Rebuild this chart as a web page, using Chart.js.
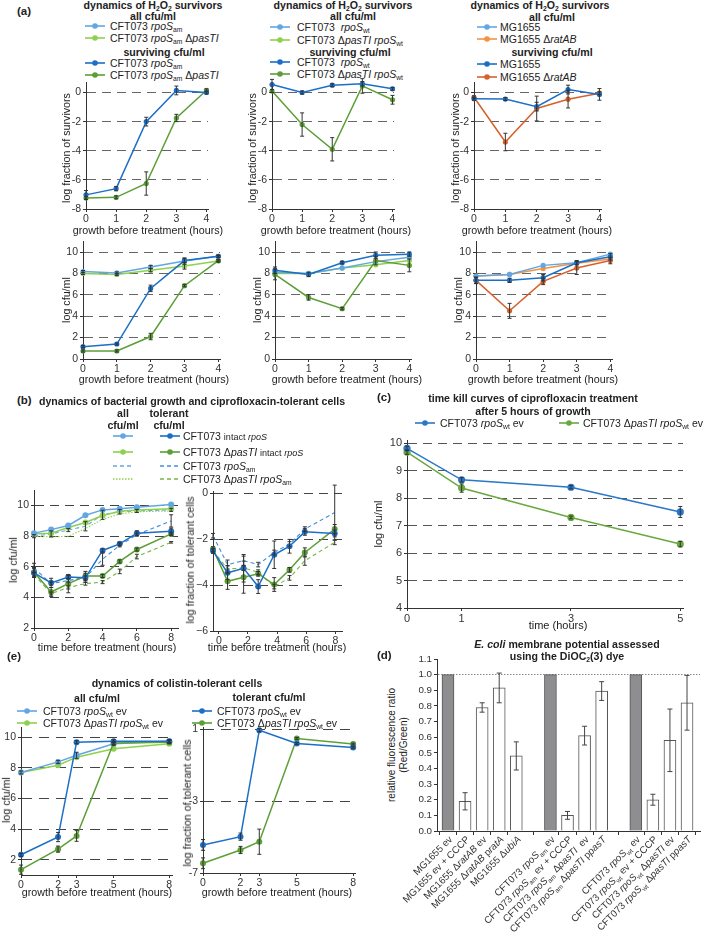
<!DOCTYPE html>
<html><head><meta charset="utf-8">
<script src="https://cdn.jsdelivr.net/npm/chart.js@4.4.1/dist/chart.umd.min.js"></script>
<style>
html,body{margin:0;padding:0;background:#fff}
body{position:relative;width:709px;height:934px;overflow:hidden;font-family:"Liberation Sans",Arial,Helvetica,sans-serif;color:#222}
.t{position:absolute;white-space:nowrap;line-height:1.15}
.t sub{font-size:0.64em;vertical-align:-0.3em;line-height:0}
.t svg{display:block}
.sm{font-size:0.86em}
canvas{position:absolute}
</style></head><body>
<script>
// ---------------- DATA ----------------
// (a) H2O2 survivors
const hoursA = [0, 1, 2, 3, 4];
const a1AmSurv = [-7.03, -6.6, -2.0, 0.14, 0.0];
const a1AmSurvErr = [0.3, 0.15, 0.3, 0.3, 0.1];
const a1AmPasSurv = [-7.25, -7.2, -6.25, -1.75, 0.15];
const a1AmPasSurvErr = [0.1, 0.1, 0.8, 0.25, 0.1];
const a2WtSurv = [0.55, 0.0, 0.5, 0.6, 0.25];
const a2WtSurvErr = [0.35, 0.1, 0.1, 0.15, 0.1];
const a2WtPasSurv = [0.1, -2.2, -3.9, 0.45, -0.5];
const a2WtPasSurvErr = [0.1, 0.8, 0.8, 0.5, 0.3];
const a3MgSurv = [-0.43, -0.45, -0.97, 0.2, -0.13];
const a3MgSurvErr = [0.1, 0.1, 0.3, 0.3, 0.4];
const a3RatSurv = [-0.33, -3.4, -1.1, -0.46, -0.05];
const a3RatSurvErr = [0.1, 0.6, 0.85, 0.6, 0.1];

const a4AmAll = [8.17, 8.04, 8.6, 9.15, 9.6];
const a4AmPasAll = [8.0, 7.9, 8.3, 8.7, 9.15];
const a4AmSurv = [1.15, 1.4, 6.6, 9.2, 9.6];
const a4AmPasSurv = [0.75, 0.75, 2.1, 6.85, 9.2];
const a4AllErr = [0.1, 0.1, 0.15, 0.3, 0.1];
const a4SurvErr = [0.1, 0.1, 0.3, 0.2, 0.1];
const a4PasSurvErr = [0.1, 0.1, 0.3, 0.1, 0.1];

const a5WtAll = [8.1, 8.0, 8.5, 9.1, 9.5];
const a5WtPasAll = [8.0, 8.0, 8.5, 8.8, 9.2];
const a5WtSurv = [8.3, 7.9, 9.0, 9.7, 9.8];
const a5WtPasSurv = [7.9, 5.75, 4.7, 9.2, 8.75];
const a5SurvErr = [0.3, 0.2, 0.1, 0.3, 0.2];
const a5PasSurvErr = [0.5, 0.25, 0.1, 0.4, 0.6];

const a6MgAll = [7.75, 7.9, 8.75, 9.0, 9.8];
const a6RatAll = [7.75, 7.9, 8.45, 8.95, 9.35];
const a6MgSurv = [7.35, 7.35, 7.6, 9.0, 9.55];
const a6RatSurv = [7.35, 4.5, 7.25, 8.5, 9.2];
const a6MgSurvErr = [0.3, 0.2, 0.3, 0.2, 0.3];
const a6RatSurvErr = [0.3, 0.7, 0.3, 0.6, 0.3];

const aTopYTicks = [-8, -6, -4, -2, 0];
const aTopGrid = [-6, -4, -2, 0];
const aBotYTicks = [0, 2, 4, 6, 8, 10];
const aBotGrid = [2, 4, 6, 8, 10];

const aLeg1 = ['CFT073 *rpoS*_{am}', 'CFT073 *rpoS*_{am} Δ*pasTI*'];
const aLeg2 = ['CFT073 &nbsp;*rpoS*_{wt}', 'CFT073 Δ*pasTI* *rpoS*_{wt}'];
const aLeg3 = ['MG1655', 'MG1655 Δ*ratAB*'];

// (b) ciprofloxacin-tolerant cells
const hoursB = [0, 1, 2, 3, 4, 5, 6, 8];
const b1AllIntact = [8.2, 8.43, 8.7, 9.37, 9.72, 9.8, 9.9, 10.07];
const b1AllIntactPas = [8.15, 8.2, 8.57, 8.9, 9.35, 9.63, 9.72, 9.8];
const b1TolIntact = [5.6, 4.95, 5.33, 5.28, 7.07, 7.5, 8.2, 8.33];
const b1TolIntactPas = [5.65, 4.35, 4.9, 5.4, 5.4, 6.35, 7.13, 8.15];
const b1AllAm = [8.0, 8.15, 8.4, 8.65, 9.4, 9.6, 9.65, 9.72];
const b1AllAmPas = [8.0, 7.95, 8.0, 8.5, 9.1, 9.45, 9.6, 9.65];
const b1TolAm = [5.93, 4.9, 5.1, 5.3, 6.5, 7.4, 8.1, 9.0];
const b1TolAmPas = [5.5, 4.25, 4.65, 4.9, 5.0, 5.7, 6.67, 7.6];
const b1AllErr = [0.1, 0.2, 0.1, 0.3, 0.3, 0.15, 0.1, 0.1];
const b1TolIntactErr = [0.3, 0.3, 0.1, 0.3, 0.1, 0.1, 0.15, 0.2];
const b1TolIntactPasErr = [0.3, 0.3, 0.6, 0.3, 0.1, 0.1, 0.1, 0.1];
const b1TolAmErr = [0.3, 0.1, 0.1, 0.1, 0.4, 0.1, 0.1, 0.4];
const b1TolAmPasErr = [0.1, 0.1, 0.1, 0.1, 0.1, 0.15, 0.15, 0.05];

const hoursB2 = [-0.4, 0.6, 1.7, 2.7, 3.8, 4.85, 5.9, 7.95];
const b2TolIntact = [-2.5, -3.46, -3.26, -4.06, -2.67, -2.3, -1.67, -1.74];
const b2TolIntactPas = [-2.42, -3.83, -3.65, -3.5, -3.97, -3.33, -2.57, -1.55];
const b2TolAm = [-1.84, -3.1, -2.93, -3.1, -2.57, -2.2, -1.55, -0.83];
const b2TolAmPas = [-2.5, -3.29, -3.25, -3.43, -4.06, -3.68, -2.93, -2.13];
const b2TolIntactErr = [0.1, 0.3, 0.6, 0.3, 0.6, 0.3, 0.15, 0.15];
const b2TolIntactPasErr = [0.1, 0.35, 0.7, 0.1, 0.3, 0.1, 0.2, 0.2];
const b2TolAmErr = [0.1, 0.2, 0.2, 0.1, 0.1, 0.1, 0.1, 1.2];
const b2TolAmPasErr = [0.1, 0.15, 0.1, 0.1, 0.1, 0.1, 0.2, 0.1];

// (c) time kill
const hoursC = [0, 1, 3, 5];
const cWt = [9.82, 8.67, 8.4, 7.5];
const cWtErr = [0.08, 0.08, 0.06, 0.2];
const cWtPas = [9.68, 8.37, 7.3, 6.33];
const cWtPasErr = [0.08, 0.15, 0.05, 0.1];

// (d) membrane potential
const dCategories = ['MG1655 ev', 'MG1655 ev + CCCP', 'MG1655 Δ*ratAB* ev', 'MG1655 Δ*ratAB* p*ratA*', 'MG1655 Δ*ubiA*', '',
  'CFT073 *rpoS*_{am} ev', 'CFT073 *rpoS*_{am} ev + CCCP', 'CFT073 *rpoS*_{am} Δ*pasTI*  ev', 'CFT073 *rpoS*_{am} Δ*pasTI* p*pasT*', '',
  'CFT073 *rpoS*_{wt} ev', 'CFT073 *rpoS*_{wt} ev + CCCP', 'CFT073 *rpoS*_{wt} Δ*pasTI* ev', 'CFT073 *rpoS*_{wt} Δ*pasTI* p*pasT*'];
const dValues = [1.0, 0.19, 0.79, 0.915, 0.48, null, 1.0, 0.10, 0.61, 0.895, null, 1.0, 0.20, 0.58, 0.82];
const dErr = [0, 0.055, 0.03, 0.095, 0.09, 0, 0, 0.025, 0.06, 0.06, 0, 0, 0.035, 0.2, 0.175];
const dControl = [1, 0, 0, 0, 0, 0, 1, 0, 0, 0, 0, 1, 0, 0, 0];
const dYTicks = [0, 0.1, 0.2, 0.3, 0.4, 0.5, 0.6, 0.7, 0.8, 0.9, 1.0, 1.1];

// (e) colistin
const hoursE = [0, 2, 3, 5, 8];
const e1AllWt = [7.7, 8.39, 8.82, 9.57, 9.74];
const e1AllWtPas = [7.7, 8.17, 8.7, 9.25, 9.57];
const e1TolWt = [2.32, 3.48, 9.68, 9.74, 9.74];
const e1TolWtPas = [1.35, 2.69, 3.55, 9.63, 9.68];
const e1AllErr = [0.1, 0.1, 0.2, 0.1, 0.1];
const e1TolWtErr = [0.1, 0.3, 0.1, 0.1, 0.1];
const e1TolWtPasErr = [0.3, 0.2, 0.35, 0.1, 0.1];
const e2TolWt = [-5.44, -4.98, 0.94, 0.2, -0.02];
const e2TolWtPas = [-6.46, -5.72, -5.26, 0.48, 0.17];
const e2TolWtErr = [0.3, 0.2, 0.1, 0.05, 0.05];
const e2TolWtPasErr = [0.3, 0.2, 0.7, 0.05, 0.05];

// ---------------- STYLE / HELPERS ----------------
const FONT = '"Liberation Sans", Arial, Helvetica, sans-serif';
Chart.defaults.font.family = FONT;
Chart.defaults.color = '#333';
const AX = '#333';
const C = {lb:'#62a6e3', db:'#1c6fc6', lg:'#8fd04f', dg:'#5b9f36', lo:'#f5923f', dor:'#d6612a',
           mb:'#3f8fdc', mg:'#78b548', cb:'#2a77c8', cg:'#6aa83f', bar:'#8e8e91'};

const rh = s => s.replace(/\*([^*]+)\*/g, '<i>$1</i>').replace(/_\{([^}]+)\}/g, '<sub>$1</sub>');

function txt(x, y, html, o = {}) {
  const d = document.createElement('div');
  d.className = 't';
  d.innerHTML = html;
  d.style.left = x + 'px'; d.style.top = y + 'px';
  d.style.fontSize = (o.fs || 10.5) + 'px';
  if (o.b) d.style.fontWeight = 'bold';
  let tr = o.a === 'l' ? 'translate(0,-50%)' : o.a === 'r' ? 'translate(-100%,-50%)' : 'translate(-50%,-50%)';
  if (o.rot) tr += ' rotate(-90deg)';
  d.style.transform = tr;
  document.body.appendChild(d);
}
function sw(color, o = {}) {
  return `<svg width="20" height="8"><line x1="0" y1="4" x2="20" y2="4" stroke="${color}" stroke-width="1.6" ${o.dash ? `stroke-dasharray="${o.dash}"` : ''}/>${o.dot === false ? '' : `<circle cx="10" cy="4" r="2.8" fill="${color}"/>`}</svg>`;
}

const errPlugin = {id: 'errbars', afterDatasetsDraw(chart) {
  const ctx = chart.ctx, ys = chart.scales.y;
  chart.data.datasets.forEach((ds, i) => {
    if (!ds.err) return;
    const meta = chart.getDatasetMeta(i);
    meta.data.forEach((el, j) => {
      const d = ds.data[j];
      const v = (d && typeof d === 'object') ? d.y : d;
      const e = ds.err[j];
      if (v == null || !e) return;
      const y1 = ys.getPixelForValue(v + e), y2 = ys.getPixelForValue(v - e), x = el.x, c = ds.capW || 2;
      ctx.save(); ctx.strokeStyle = ds.errColor || '#333'; ctx.lineWidth = 1; ctx.setLineDash([]);
      ctx.beginPath(); ctx.moveTo(x, y1); ctx.lineTo(x, y2);
      ctx.moveTo(x - c, y1); ctx.lineTo(x + c, y1); ctx.moveTo(x - c, y2); ctx.lineTo(x + c, y2);
      ctx.stroke(); ctx.restore();
    });
  });
}};

function ds(xs, ys, err, color, extra = {}) {
  return Object.assign({
    data: xs.map((x, i) => ({x, y: ys[i]})), err,
    borderColor: color, backgroundColor: color, pointBackgroundColor: color, pointBorderColor: color,
    pointBorderWidth: 0, pointRadius: 2.6, borderWidth: 1.5, tension: 0, clip: false
  }, extra);
}

function chart(A, o) {
  const l = Math.round(A.l), r = Math.round(A.r), t = Math.round(A.t), b = Math.round(A.b);
  const yw = o.yw || 22, xh = o.xh || 16, PT = 8, PR = 8;
  const cv = document.createElement('canvas');
  const W = r - l + yw + PR, H = b - t + xh + PT;
  cv.width = W; cv.height = H;
  Object.assign(cv.style, {left: (l - yw) + 'px', top: (t - PT) + 'px', width: W + 'px', height: H + 'px'});
  document.body.appendChild(cv);
  const near = (arr, v) => arr.some(g => Math.abs(g - v) < 1e-6);
  const fs = o.fs || 10.5;
  return new Chart(cv, {
    type: o.type || 'line',
    data: {datasets: o.sets},
    plugins: [errPlugin].concat(o.plugins || []),
    options: {
      responsive: false, maintainAspectRatio: false, animation: false, devicePixelRatio: 1, events: [],
      layout: {autoPadding: false, padding: {left: 0, top: PT, right: PR, bottom: 0}},
      plugins: {legend: {display: false}, tooltip: {enabled: false}},
      scales: {
        x: o.xScale || {type: 'linear', bounds: 'data', min: o.xr[0], max: o.xr[1],
          afterBuildTicks: s => { s.ticks = o.xt.map(v => ({value: v})); },
          afterFit: s => { s.height = xh; },
          grid: {display: true, drawOnChartArea: false, drawTicks: true, tickLength: 3, tickColor: AX, color: AX},
          border: {display: true, color: AX, width: 1},
          ticks: {autoSkip: false, maxRotation: 0, minRotation: 0, padding: 1, color: '#333', font: {size: fs}}},
        y: {type: 'linear', bounds: 'data', min: o.yr[0], max: o.yr[1],
          afterBuildTicks: s => { s.ticks = o.yt.map(v => ({value: v})); },
          afterFit: s => { s.width = yw; },
          grid: {display: true, drawOnChartArea: true, drawTicks: true, tickLength: 3, tickColor: AX, lineWidth: o.gw || 1,
            color: c => (c.tick && near(o.grid, c.tick.value)) ? (o.gc || '#666') : 'rgba(0,0,0,0)'},
          border: {display: true, color: AX, width: 1, dash: o.dash || [9, 6]},
          ticks: {padding: 2, color: '#333', font: {size: fs}, callback: o.yfmt || (v => String(v))}}
      }
    }
  });
}

// ---------------- PANEL (a) ----------------
txt(17, 12, '(a)', {b: 1, a: 'l', fs: 11.5});
const aLegLayout = [
  {tx: 153, ty: 5, all: [153, 15.5], rows: [26, 37.5], surv: [164, 51.5], srows: [62.5, 75], sx: 95, lx: 110, labels: aLeg1, ca: [C.lb, C.lg], cs: [C.db, C.dg]},
  {tx: 343, ty: 5, all: [353, 15.5], rows: [27, 40], surv: [350, 51.5], srows: [62, 74], sx: 280, lx: 297, labels: aLeg2, ca: [C.lb, C.lg], cs: [C.db, C.dg]},
  {tx: 540, ty: 5, all: [552, 16.5], rows: [27, 39], surv: [552, 52], srows: [64, 77], sx: 487, lx: 500, labels: aLeg3, ca: [C.lb, C.lo], cs: [C.db, C.dor]}
];
aLegLayout.forEach(L => {
  txt(L.tx, L.ty, 'dynamics of H<sub>2</sub>O<sub>2</sub> survivors', {b: 1, fs: 10.6});
  txt(L.all[0], L.all[1], 'all cfu/ml', {b: 1, fs: 10.6});
  txt(L.surv[0], L.surv[1], 'surviving cfu/ml', {b: 1, fs: 10.6});
  L.labels.forEach((lab, i) => {
    txt(L.sx, L.rows[i], sw(L.ca[i]));
    txt(L.lx, L.rows[i], rh(lab), {a: 'l'});
    txt(L.sx, L.srows[i], sw(L.cs[i]));
    txt(L.lx, L.srows[i], rh(lab), {a: 'l'});
  });
});

const aTopOpts = {yr: [-8, 0.7], yt: aTopYTicks, grid: aTopGrid, xt: hoursA, xr: [0, 4.05]};
chart({l: 86, r: 207.5, t: 81.8, b: 209}, Object.assign({}, aTopOpts, {sets: [
  ds(hoursA, a1AmSurv, a1AmSurvErr, C.db), ds(hoursA, a1AmPasSurv, a1AmPasSurvErr, C.dg)]}));
chart({l: 272, r: 393.5, t: 81.8, b: 209}, Object.assign({}, aTopOpts, {sets: [
  ds(hoursA, a2WtSurv, a2WtSurvErr, C.db), ds(hoursA, a2WtPasSurv, a2WtPasSurvErr, C.dg)]}));
chart({l: 474, r: 600.6, t: 81.8, b: 209}, Object.assign({}, aTopOpts, {sets: [
  ds(hoursA, a3MgSurv, a3MgSurvErr, C.db), ds(hoursA, a3RatSurv, a3RatSurvErr, C.dor)]}));

const aBotOpts = {yr: [0, 11], yt: aBotYTicks, grid: aBotGrid, xt: hoursA, xr: [0, 4.05]};
chart({l: 83, r: 219.7, t: 241.4, b: 358.5}, Object.assign({}, aBotOpts, {sets: [
  ds(hoursA, a4AmSurv, a4SurvErr, C.db), ds(hoursA, a4AmPasSurv, a4PasSurvErr, C.dg),
  ds(hoursA, a4AmAll, a4AllErr, C.lb), ds(hoursA, a4AmPasAll, a4AllErr, C.lg)]}));
chart({l: 275, r: 410.7, t: 241.4, b: 358.5}, Object.assign({}, aBotOpts, {sets: [
  ds(hoursA, a5WtSurv, a5SurvErr, C.db), ds(hoursA, a5WtPasSurv, a5PasSurvErr, C.dg),
  ds(hoursA, a5WtAll, null, C.lb), ds(hoursA, a5WtPasAll, null, C.lg)]}));
chart({l: 476, r: 611.7, t: 241.4, b: 358.5}, Object.assign({}, aBotOpts, {sets: [
  ds(hoursA, a6MgSurv, a6MgSurvErr, C.db), ds(hoursA, a6RatSurv, a6RatSurvErr, C.dor),
  ds(hoursA, a6MgAll, null, C.lb), ds(hoursA, a6RatAll, null, C.lo)]}));

[[66, 148], [252, 148], [455, 148]].forEach(p => txt(p[0], p[1], 'log fraction of survivors', {rot: 1, fs: 10.7}));
[[66, 300], [257, 300], [458, 300]].forEach(p => txt(p[0], p[1], 'log cfu/ml', {rot: 1, fs: 10.7}));
[148, 336, 537].forEach(x => txt(x, 229.5, 'growth before treatment (hours)', {fs: 10.7}));
[154, 347, 543].forEach(x => txt(x, 379, 'growth before treatment (hours)', {fs: 10.7}));

// ---------------- PANEL (b) ----------------
txt(17, 401, '(b)', {b: 1, a: 'l', fs: 11.5});
txt(192, 401, 'dynamics of bacterial growth and ciprofloxacin-tolerant cells', {b: 1, fs: 10.6});
txt(123, 413, 'all', {b: 1, fs: 10.6}); txt(123, 425, 'cfu/ml', {b: 1, fs: 10.6});
txt(169, 413, 'tolerant', {b: 1, fs: 10.6}); txt(169, 425, 'cfu/ml', {b: 1, fs: 10.6});
const bRows = [
  [436, sw(C.lb), sw(C.db), 'CFT073 <span class="sm">intact <i>rpoS</i></span>'],
  [452, sw(C.lg), sw(C.dg), 'CFT073 Δ<i>pasTI</i> <span class="sm">intact <i>rpoS</i></span>'],
  [466, sw(C.lb, {dash: '4,3', dot: false}), sw(C.mb, {dash: '4,3', dot: false}), 'CFT073 <i>rpoS</i><sub>am</sub>'],
  [479, sw(C.lg, {dash: '1.5,1.5', dot: false}), sw(C.mg, {dash: '4,3', dot: false}), 'CFT073 Δ<i>pasTI</i> <i>rpoS</i><sub>am</sub>']
];
bRows.forEach(r => { txt(123, r[0], r[1]); txt(170, r[0], r[2]); txt(183, r[0], r[3], {a: 'l'}); });

const dashB = {borderDash: [4, 3], borderWidth: 1.1, pointRadius: 0};
chart({l: 34, r: 177.6, t: 489.6, b: 628}, {yr: [2, 11], yt: [2, 4, 6, 8, 10], grid: [4, 6, 8, 10], xt: [0, 2, 4, 6, 8], xr: [0, 8.4], gc: '#444',
  sets: [
    ds(hoursB, b1TolIntact, b1TolIntactErr, C.db, {pointRadius: 3}),
    ds(hoursB, b1TolIntactPas, b1TolIntactPasErr, C.dg, {pointRadius: 3}),
    ds(hoursB, b1AllIntact, null, C.lb, {pointRadius: 3}),
    ds(hoursB, b1AllIntactPas, null, C.lg, {pointRadius: 3}),
    ds(hoursB, b1TolAm, b1TolAmErr, C.mb, dashB),
    ds(hoursB, b1TolAmPas, b1TolAmPasErr, C.mg, dashB),
    ds(hoursB, b1AllAm, b1AllErr, C.lb, dashB),
    ds(hoursB, b1AllAmPas, null, C.lg, {borderDash: [1.5, 1.5], borderWidth: 1.1, pointRadius: 0})
  ]});
chart({l: 213.2, r: 342.4, t: 490.7, b: 631}, {yr: [-6, 0.1], yt: [-6, -4, -2, 0], grid: [-4, -2, 0], xt: [0, 2, 4, 6, 8], xr: [-0.4, 8.45], gc: '#444',
  yfmt: v => String(v).replace('-', '−'),
  sets: [
    ds(hoursB2, b2TolIntact, b2TolIntactErr, C.db, {pointRadius: 3}),
    ds(hoursB2, b2TolIntactPas, b2TolIntactPasErr, C.dg, {pointRadius: 3}),
    ds(hoursB2, b2TolAm, b2TolAmErr, C.mb, dashB),
    ds(hoursB2, b2TolAmPas, b2TolAmPasErr, C.mg, dashB)
  ]});
txt(13, 560, 'log cfu/ml', {rot: 1, fs: 10.7});
txt(190, 560, 'log fraction of tolerant cells', {rot: 1, fs: 10.7});
txt(107, 647, 'time before treatment (hours)', {fs: 10.7});
txt(277, 647, 'time before treatment (hours)', {fs: 10.7});

// ---------------- PANEL (c) ----------------
txt(377, 398, '(c)', {b: 1, a: 'l', fs: 11.5});
txt(533, 398, 'time kill curves of ciprofloxacin treatment', {b: 1, fs: 10.6});
txt(533, 411, 'after 5 hours of growth', {b: 1, fs: 10.6});
txt(425, 423, sw(C.cb)); txt(440, 423, rh('CFT073 *rpoS*_{wt} ev'), {a: 'l'});
txt(569, 423, sw(C.cg)); txt(583, 423, rh('CFT073 Δ*pasTI* *rpoS*_{wt} ev'), {a: 'l'});
chart({l: 407, r: 682.7, t: 440.25, b: 608}, {yr: [4, 10.1], yt: [4, 5, 6, 7, 8, 9, 10], grid: [5, 6, 7, 8, 9, 10], xt: hoursC, xr: [0, 5.05], gc: '#555', fs: 11,
  sets: [ds(hoursC, cWt, cWtErr, C.cb, {pointRadius: 3.6}), ds(hoursC, cWtPas, cWtPasErr, C.cg, {pointRadius: 3.6})]});
txt(378, 524, 'log cfu/ml', {rot: 1, fs: 11});
txt(558, 625, 'time (hours)', {fs: 11});

// ---------------- PANEL (d) ----------------
txt(377, 656, '(d)', {b: 1, a: 'l', fs: 11.5});
txt(567, 644, '<i>E. coli</i> membrane potential assessed', {b: 1, fs: 10.6});
txt(567, 656, 'using the DiOC<sub>2</sub>(3) dye', {b: 1, fs: 10.6});
txt(392, 745, 'relative fluorescence ratio', {rot: 1, fs: 10});
txt(404, 745, '(Red/Green)', {rot: 1, fs: 10});

function parseRich(s) {
  const segs = []; let it = false, i = 0, cur = '';
  const push = () => { if (cur) { segs.push({t: cur, i: it, s: false}); cur = ''; } };
  while (i < s.length) {
    const ch = s[i];
    if (ch === '*') { push(); it = !it; i++; }
    else if (ch === '_' && s[i + 1] === '{') { push(); const j = s.indexOf('}', i); segs.push({t: s.slice(i + 2, j), i: false, s: true}); i = j + 1; }
    else { cur += ch; i++; }
  }
  push(); return segs;
}
function drawRich(ctx, segs, fs) {
  const fontOf = sg => `${sg.i ? 'italic ' : ''}${sg.s ? fs * 0.65 : fs}px ${FONT}`;
  let w = 0;
  segs.forEach(sg => { ctx.font = fontOf(sg); sg.w = ctx.measureText(sg.t).width; w += sg.w; });
  let x = -w;
  segs.forEach(sg => { ctx.font = fontOf(sg); ctx.fillText(sg.t, x, sg.s ? fs * 0.28 : 0); x += sg.w; });
}
const dLabelPlugin = {id: 'dlabels', afterDraw(chart) {
  const ctx = chart.ctx, xs = chart.scales.x, b = chart.chartArea.bottom;
  dCategories.forEach((lab, i) => {
    if (!lab) return;
    const x = xs.getPixelForValue(i);
    ctx.save(); ctx.translate(x + 5, b + 9); ctx.rotate(-Math.PI / 4);
    ctx.fillStyle = '#333'; ctx.textBaseline = 'alphabetic';
    drawRich(ctx, parseRich(lab), 9.8); ctx.restore();
  });
}};
chart({l: 437, r: 700, t: 659, b: 831}, {type: 'bar', yw: 60, xh: 103, fs: 9.8, yr: [0, 1.1], yt: dYTicks, grid: [1.0], gc: '#888', dash: [1.5, 1.5],
  yfmt: v => v.toFixed(1), plugins: [dLabelPlugin],
  xScale: {type: 'linear', bounds: 'data', min: -0.644, max: 14.76, offset: false,
    afterBuildTicks: s => { s.ticks = dCategories.map((c, i) => c ? {value: i} : null).filter(Boolean); },
    afterFit: s => { s.height = 103; },
    grid: {display: true, drawOnChartArea: false, drawTicks: true, tickLength: 4, tickColor: AX, color: AX},
    border: {display: true, color: AX, width: 1},
    ticks: {display: false}},
  sets: [{data: dValues.map((v, i) => ({x: i, y: v})), err: dErr, errColor: '#444', capW: 2.5,
    backgroundColor: dValues.map((v, i) => dControl[i] ? C.bar : '#fff'), borderColor: '#555', borderWidth: 1, barThickness: 12}]});

// ---------------- PANEL (e) ----------------
txt(7, 657, '(e)', {b: 1, a: 'l', fs: 11.5});
txt(177, 683, 'dynamics of colistin-tolerant cells', {b: 1, fs: 10.6});
txt(97, 698, 'all cfu/ml', {b: 1, fs: 10.6});
txt(269, 697, 'tolerant cfu/ml', {b: 1, fs: 10.6});
const eLeg = ['CFT073 *rpoS*_{wt} ev', 'CFT073 Δ*pasTI* *rpoS*_{wt} ev'];
[[711, C.lb, C.db], [723, C.lg, C.dg]].forEach((r, i) => {
  txt(27, r[0], sw(r[1])); txt(43, r[0], rh(eLeg[i]), {a: 'l'});
  txt(202, r[0], sw(r[2])); txt(217, r[0], rh(eLeg[i]), {a: 'l'});
});
chart({l: 21, r: 171.8, t: 727, b: 875.4}, {yw: 21, yr: [1, 10.65], yt: [2, 4, 6, 8, 10], grid: [2, 4, 6, 8, 10], xt: hoursE, xr: [0, 8.15], gc: '#444', dash: [10, 7],
  sets: [
    ds(hoursE, e1TolWt, e1TolWtErr, C.db, {pointRadius: 3}),
    ds(hoursE, e1TolWtPas, e1TolWtPasErr, C.dg, {pointRadius: 3}),
    ds(hoursE, e1AllWt, e1AllErr, C.lb, {pointRadius: 3}),
    ds(hoursE, e1AllWtPas, null, C.lg, {pointRadius: 3})
  ]});
chart({l: 203, r: 354.9, t: 727.2, b: 873}, {yw: 21, yr: [-7, 1.1], yt: [-7, -3, 1], grid: [-3, 1], xt: hoursE, xr: [0, 8.1], gc: '#444', dash: [10, 7],
  sets: [
    ds(hoursE, e2TolWt, e2TolWtErr, C.db, {pointRadius: 3}),
    ds(hoursE, e2TolWtPas, e2TolWtPasErr, C.dg, {pointRadius: 3})
  ]});
txt(6, 800, 'log cfu/ml', {rot: 1, fs: 10.7});
txt(187, 803, 'log fraction of tolerant cells', {rot: 1, fs: 10.7});
txt(97, 892, 'growth before treatment (hours)', {fs: 10.7});
txt(277, 892, 'growth before treatment (hours)', {fs: 10.7});
</script>
</body></html>
